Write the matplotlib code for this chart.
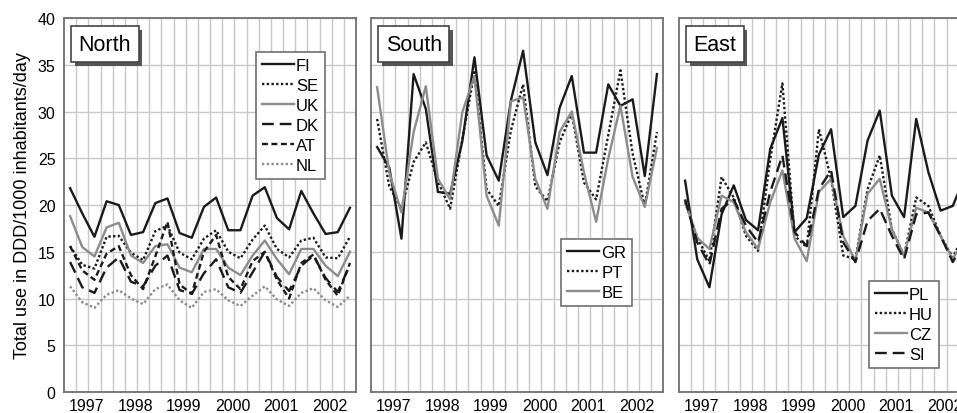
import matplotlib
matplotlib.use('Agg')
import matplotlib.pyplot as plt
import matplotlib.patheffects as pe

plt.rcParams['font.family'] = ['Liberation Sans', 'DejaVu Sans']

# quarterly data 1997-2002, DDD/1000 inhabitants/day
years = ['1997', '1998', '1999', '2000', '2001', '2002']

# North
FI = [21.8, 19.1, 16.6, 20.4, 20.0, 16.8, 17.1, 20.2, 20.7, 17.0, 16.5, 19.8,
      20.8, 17.3, 17.3, 21.0, 21.9, 18.6, 17.4, 21.5, 19.1, 16.9, 17.1, 19.7]
SE = [15.6, 13.6, 13.2, 16.6, 16.7, 14.9, 14.1, 17.2, 17.8, 14.9, 14.2, 16.4,
      17.3, 15.0, 14.3, 16.3, 17.8, 15.3, 14.4, 16.2, 16.5, 14.4, 14.3, 16.6]
UK = [18.8, 15.5, 14.5, 17.6, 18.1, 14.6, 13.8, 15.6, 15.8, 13.3, 12.8, 15.3,
      15.3, 13.3, 12.5, 14.6, 16.2, 14.2, 12.6, 15.3, 15.3, 13.5, 12.4, 15.0]
DK = [13.9, 11.2, 10.6, 13.3, 14.4, 11.8, 11.3, 13.5, 14.6, 10.9, 10.5, 12.7,
      14.2, 11.2, 10.6, 12.8, 15.0, 12.3, 10.8, 13.5, 14.6, 12.2, 10.7, 13.6]
AT = [15.6, 13.0, 12.0, 14.8, 15.6, 12.5, 11.0, 14.5, 18.2, 11.5, 10.5, 15.0,
      16.8, 12.3, 11.0, 14.0, 15.0, 12.0, 10.0, 13.8, 14.7, 12.0, 10.3, 13.8]
NL = [11.3, 9.6, 9.0, 10.4, 10.9, 10.0, 9.4, 11.0, 11.5, 9.8, 9.0, 10.7,
      11.0, 9.8, 9.2, 10.3, 11.3, 9.9, 9.2, 10.6, 11.1, 9.8, 9.1, 10.3]

# South
GR = [26.2, 24.0, 16.4, 34.0, 30.3, 21.4, 21.2, 26.8, 35.8, 25.3, 22.6, 31.2,
      36.5, 26.7, 23.2, 30.4, 33.8, 25.6, 25.6, 32.9, 30.6, 31.3, 23.1, 34.0]
PT = [29.2, 22.0, 19.6, 24.6, 26.7, 22.5, 19.6, 27.0, 34.2, 21.7, 19.9, 28.0,
      32.9, 22.0, 20.4, 26.7, 29.8, 22.4, 20.6, 27.5, 34.4, 25.5, 19.9, 27.8]
BE = [32.6, 23.5, 19.2, 27.8, 32.7, 22.8, 20.6, 29.9, 33.8, 21.0, 17.8, 31.1,
      31.5, 22.8, 19.6, 27.8, 30.0, 23.5, 18.2, 25.0, 30.6, 23.0, 19.8, 26.1]

# East
PL = [22.6, 14.2, 11.2, 19.0, 22.1, 18.4, 17.3, 26.0, 29.3, 17.1, 18.6, 25.4,
      28.1, 18.7, 19.9, 26.9, 30.1, 21.0, 18.7, 29.2, 23.5, 19.4, 19.9, 23.0]
HU = [20.3, 16.5, 14.0, 23.0, 20.8, 16.7, 15.1, 24.9, 33.0, 16.7, 15.5, 28.1,
      22.8, 14.6, 14.2, 21.7, 25.3, 17.4, 14.6, 20.8, 19.9, 16.7, 14.4, 17.0]
CZ = [20.4, 16.5, 15.3, 21.0, 20.3, 17.1, 15.3, 20.3, 23.7, 16.4, 14.0, 21.4,
      22.8, 16.7, 14.0, 21.2, 22.8, 17.4, 14.6, 19.7, 19.2, 16.7, 14.2, 16.5]
SI = [20.6, 16.0, 13.6, 19.6, 20.6, 17.8, 16.0, 21.4, 25.3, 17.1, 15.6, 21.7,
      23.7, 16.0, 13.9, 18.3, 19.6, 16.7, 14.2, 19.0, 19.2, 16.7, 13.9, 16.0]

BLACK = '#1a1a1a'
GREY = '#8c8c8c'
SOLID = '-'
DOT = (0, (1, 1))
LDASH = (0, (5, 2.5))
SDASH = (0, (2.5, 1.5))

panels = [
    ('North', [('FI', FI, BLACK, SOLID), ('SE', SE, BLACK, DOT), ('UK', UK, GREY, SOLID),
               ('DK', DK, BLACK, LDASH), ('AT', AT, BLACK, SDASH), ('NL', NL, GREY, DOT)],
     0.0669, (0.894, 0.909)),
    ('South', [('GR', GR, BLACK, SOLID), ('PT', PT, BLACK, DOT), ('BE', BE, GREY, SOLID)],
     0.3877, (0.894, 0.409)),
    ('East', [('PL', PL, BLACK, SOLID), ('HU', HU, BLACK, DOT), ('CZ', CZ, GREY, SOLID),
              ('SI', SI, BLACK, LDASH)],
     0.7095, (0.890, 0.297)),
]

fig = plt.figure(figsize=(9.57, 4.14), dpi=100)
xq = [i + 0.5 for i in range(24)]

for k, (name, series, left, leg_anchor) in enumerate(panels):
    ax = fig.add_axes([left, 0.0507, 292 / 957, 0.9034])
    ax.set_xlim(0, 24)
    ax.set_ylim(0, 40)
    ax.set_xticks(range(1, 24), minor=True)
    ax.set_yticks(range(0, 41, 5))
    ax.grid(True, which='minor', axis='x', color='#c8c8c8', lw=1.0)
    ax.grid(True, which='major', axis='y', color='#c8c8c8', lw=1.0)
    ax.set_axisbelow(True)
    ax.set_xticks([4 * j + 1.85 for j in range(6)])
    ax.set_xticklabels(years)
    ax.tick_params(which='both', length=0, labelsize=11.5, pad=4)
    if k > 0:
        ax.set_yticklabels([])
    else:
        ax.tick_params(axis='y', pad=6)
        ax.set_ylabel('Total use in DDD/1000 inhabitants/day', fontsize=13, labelpad=5)
    for sp in ax.spines.values():
        sp.set_color('#707070')
        sp.set_linewidth(1.3)

    for lab, vals, col, ls in series:
        ax.plot(xq, vals, color=col, ls=ls, lw=1.7, label=lab)

    leg = ax.legend(loc='upper right', bbox_to_anchor=leg_anchor, fontsize=12,
                    frameon=True, fancybox=False, framealpha=1, edgecolor='#707070',
                    handlelength=1.9, handletextpad=0.15, borderpad=0.35,
                    labelspacing=0.3, borderaxespad=0)
    leg.get_frame().set_linewidth(1.2)

    t = ax.text(0.05, 0.958, name, transform=ax.transAxes, fontsize=15.5,
                ha='left', va='top', zorder=6,
                bbox=dict(boxstyle='square,pad=0.35', fc='white', ec='#444444', lw=1.2))
    t.get_bbox_patch().set_path_effects(
        [pe.withSimplePatchShadow(offset=(2.5, -2.5), shadow_rgbFace='#444444', alpha=0.9)])

fig.savefig('out.png', dpi=100)
